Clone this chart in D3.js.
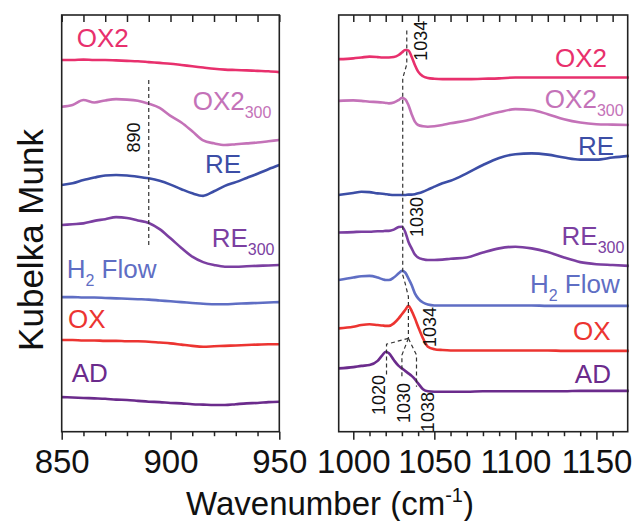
<!DOCTYPE html>
<html>
<head>
<meta charset="utf-8">
<script src="https://cdn.jsdelivr.net/npm/d3@7"></script>
<style>
body { margin: 0; background: #fff; }
text { font-family: "Liberation Sans", Arial, sans-serif; }
</style>
</head>
<body>
<div id="km-chart"></div>
<script>
const containerWidth = 636;
const containerHeight = 521;

//Wavenumber grids (cm-1)
const wnLeft = [850,855,860,865,870,875,880,885,890,895,900,905,910,915,920,925,930,935,940,945,950];
const wnRight = [991,1000,1005,1010,1015,1018,1020,1022,1025,1028,1030,1032,1034,1036,1038,1040,1043,1046,1050,1055,1060,1070,1080,1090,1100,1110,1120,1130,1140,1150,1160,1170];

//Kubelka Munk values, stacked with offsets (arb. units), 850-950 region
const leftOX2    = [8.92,8.92,8.93,8.92,8.92,8.91,8.90,8.89,8.87,8.85,8.83,8.80,8.77,8.74,8.71,8.69,8.68,8.67,8.66,8.65,8.63];
const leftOX2300 = [7.80,7.84,7.96,7.90,7.95,7.98,7.97,7.94,7.87,7.77,7.58,7.42,7.21,6.99,6.92,6.88,6.90,6.92,6.94,6.97,7.00];
const leftRE     = [5.92,5.96,6.04,6.10,6.15,6.16,6.15,6.12,6.08,6.02,5.93,5.82,5.72,5.66,5.77,5.90,5.99,6.09,6.19,6.30,6.40];
const leftRE300  = [4.96,4.98,5.00,5.06,5.10,5.15,5.13,5.07,5.01,4.86,4.64,4.41,4.20,4.07,4.00,3.96,3.96,3.97,3.98,3.99,4.00];
const leftH2     = [3.23,3.23,3.22,3.22,3.21,3.20,3.19,3.18,3.17,3.15,3.13,3.11,3.09,3.07,3.06,3.06,3.07,3.08,3.09,3.10,3.11];
const leftOX     = [2.20,2.20,2.19,2.19,2.18,2.18,2.17,2.17,2.16,2.14,2.12,2.09,2.06,2.04,2.05,2.06,2.07,2.08,2.09,2.10,2.10];
const leftAD     = [0.83,0.82,0.81,0.80,0.79,0.77,0.76,0.74,0.72,0.71,0.69,0.68,0.66,0.65,0.64,0.64,0.66,0.68,0.69,0.71,0.72];

//Kubelka Munk values, 991-1170 region
const rightOX2    = [8.94,8.96,8.98,9.00,8.99,8.98,8.98,8.98,8.99,9.04,9.10,9.16,9.15,9.00,8.80,8.64,8.53,8.49,8.47,8.46,8.46,8.46,8.47,8.48,8.50,8.50,8.50,8.50,8.50,8.50,8.50,8.50];
const rightOX2300 = [7.94,7.95,7.94,7.92,7.91,7.90,7.89,7.88,7.90,7.96,8.01,7.98,7.84,7.62,7.44,7.36,7.33,7.32,7.33,7.36,7.40,7.47,7.57,7.67,7.74,7.72,7.62,7.50,7.42,7.38,7.37,7.36];
const rightRE     = [5.68,5.73,5.76,5.75,5.72,5.71,5.70,5.69,5.68,5.68,5.68,5.68,5.69,5.69,5.70,5.72,5.76,5.81,5.88,5.96,6.02,6.20,6.40,6.57,6.66,6.68,6.65,6.58,6.53,6.53,6.58,6.62];
const rightRE300  = [4.78,4.79,4.80,4.80,4.81,4.81,4.82,4.82,4.85,4.91,4.92,4.80,4.56,4.40,4.25,4.18,4.14,4.12,4.12,4.13,4.15,4.18,4.30,4.40,4.44,4.40,4.31,4.18,4.07,4.02,4.00,3.98];
const rightH2     = [3.64,3.70,3.73,3.74,3.70,3.66,3.64,3.64,3.70,3.80,3.86,3.82,3.68,3.52,3.32,3.20,3.10,3.05,3.03,3.03,3.03,3.03,3.03,3.03,3.03,3.03,3.02,3.02,3.02,3.02,3.02,3.02];
const rightOX     = [2.48,2.52,2.56,2.58,2.56,2.55,2.54,2.54,2.60,2.72,2.82,2.92,3.02,2.90,2.72,2.52,2.24,2.04,1.98,1.96,1.95,1.95,1.95,1.95,1.95,1.95,1.95,1.94,1.94,1.94,1.94,1.94];
const rightAD     = [1.52,1.55,1.58,1.60,1.70,1.84,1.92,1.88,1.72,1.58,1.52,1.46,1.40,1.34,1.26,1.16,1.02,0.97,0.96,0.96,0.96,0.96,0.97,0.97,0.97,0.97,0.97,0.97,0.98,0.98,0.98,0.98];

//Sample names (main text + subscript)
const sampleNames = [["OX2",""],["OX2","300"],["RE",""],["RE","300"],["H","2"],["OX",""],["AD",""]];
const sampleColors = ["#e8306d","#c472b8","#3c4ea6","#7b3fa1","#5f6ec4","#ec3431","#6b2b8c"];

//Tick values
const leftMajor = [850,900,950];
const leftMinor = [860,870,880,890,910,920,930,940];
const rightMajor = [1000,1050,1100,1150];
const rightMinor = [1010,1020,1030,1040,1060,1070,1080,1090,1110,1120,1130,1140,1160];

//Peak markers
const leftPeaks = [890];
const rightPeakLabels = ["1034","1030","1034","1020","1030","1038"];

const svgContainer = d3.select("#km-chart")
    .append('svg')
    .attr('width', containerWidth)
    .attr('height', containerHeight);

const plotTop = 15, plotBottom = 431.7;

const scaleY = d3.scaleLinear().domain([0, 10]).range([plotBottom, plotTop]);
const scaleXLeft = d3.scaleLinear().domain([850, 950]).range([61.7, 279.3]);
const scaleXRight = d3.scaleLinear().domain([991, 1169.3]).range([338.7, 627.7]);

const panels = [
    {x: scaleXLeft, wn: wnLeft, series: [leftOX2,leftOX2300,leftRE,leftRE300,leftH2,leftOX,leftAD],
     major: leftMajor, minor: leftMinor,
     labelAt: [[856.9,9.24],[910.2,7.72],[915.9,6.21],[918.9,4.44],[852.3,3.68],[852.9,2.48],[854.6,1.20]]},
    {x: scaleXRight, wn: wnRight, series: [rightOX2,rightOX2300,rightRE,rightRE300,rightH2,rightOX,rightAD],
     major: rightMajor, minor: rightMinor,
     labelAt: [[1124.4,8.76],[1118.2,7.77],[1138.6,6.64],[1128.5,4.48],[1109,3.33],[1135.5,2.20],[1136.7,1.17]]}
];

panels.forEach(p => {
    const [x0, x1] = p.x.range();

    //Spectra
    const line = d3.line()
        .x((d, i) => p.x(p.wn[i]))
        .y(d => scaleY(d))
        .curve(d3.curveMonotoneX);

    p.series.forEach((s, i) => {
        svgContainer.append('path')
            .datum(s)
            .attr('d', line)
            .attr('fill', 'none')
            .attr('stroke', sampleColors[i])
            .attr('stroke-width', 2.6)
            .attr('stroke-linejoin', 'round');
    });

    //Sample labels
    p.labelAt.forEach((pos, i) => {
        const name = sampleNames[i];
        const t = svgContainer.append('text')
            .attr('x', p.x(pos[0]))
            .attr('y', scaleY(pos[1]))
            .attr('fill', sampleColors[i])
            .attr('font-size', 26);
        t.append('tspan').text(name[0]);
        if (name[1]) {
            t.append('tspan').text(name[1]).attr('font-size', 16).attr('dy', 8);
            if (name[0] === "H") t.append('tspan').text(" Flow").attr('dy', -8);
        }
    });

    //Frame
    svgContainer.append('rect')
        .attr('x', x0).attr('y', plotTop)
        .attr('width', x1 - x0).attr('height', plotBottom - plotTop)
        .attr('fill', 'none')
        .attr('stroke', '#222')
        .attr('stroke-width', 1.6);

    //Bottom axis (outward ticks)
    svgContainer.append('g')
        .attr('transform', 'translate(0,' + plotBottom + ')')
        .call(d3.axisBottom(p.x).tickValues(p.minor).tickSize(4.5).tickFormat(''))
        .call(g => g.select('.domain').remove());

    svgContainer.append('g')
        .attr('class', 'x-axis')
        .attr('transform', 'translate(0,' + plotBottom + ')')
        .call(d3.axisBottom(p.x).tickValues(p.major).tickSize(8).tickPadding(10).tickFormat(d3.format('d')))
        .call(g => g.select('.domain').remove())
        .call(g => g.selectAll('text').attr('font-size', 33).attr('fill', '#111')
            .style('font-family', '"Liberation Sans", Arial, sans-serif'));

    //Top axis (inward ticks)
    svgContainer.append('g')
        .attr('transform', 'translate(0,' + plotTop + ')')
        .call(d3.axisBottom(p.x).tickValues(p.major.concat(p.minor)).tickSize(7).tickFormat(''))
        .call(g => g.select('.domain').remove());

    svgContainer.selectAll('.tick line').attr('stroke', '#222').attr('stroke-width', 1.5);
});

//Dashed peak guides
const guide = d3.line().curve(d3.curveLinear);
function dashed(scaleX, pts) {
    svgContainer.append('path')
        .attr('d', guide(pts.map(d => [scaleX(d[0]), scaleY(d[1])])))
        .attr('fill', 'none')
        .attr('stroke', '#333')
        .attr('stroke-width', 1.2)
        .attr('stroke-dasharray', '4,3');
}

dashed(scaleXLeft, [[leftPeaks[0], 8.44], [leftPeaks[0], 4.44]]);
dashed(scaleXRight, [[1033, 9.63], [1033, 8.82], [1030.5, 8.48], [1030.5, 3.76], [1032, 3.56], [1034, 3.24], [1034, 2.24]]);
dashed(scaleXRight, [[1034, 2.24], [1020.5, 2.10], [1020.5, 1.30]]);
dashed(scaleXRight, [[1034, 2.24], [1030, 1.84], [1030, 1.30]]);
dashed(scaleXRight, [[1034, 2.24], [1039, 1.84], [1039, 1.08]]);

//Peak labels (rotated)
function peakLabel(scaleX, wn, v, txt) {
    svgContainer.append('text')
        .attr('transform', 'translate(' + scaleX(wn) + ',' + scaleY(v) + ') rotate(-90)')
        .attr('text-anchor', 'middle')
        .attr('dy', '0.35em')
        .attr('font-size', 18)
        .attr('fill', '#111')
        .text(txt);
}

peakLabel(scaleXLeft, 883.2, 7.06, String(leftPeaks[0]));
const rightPeakPos = [[1041.3, 9.38], [1039.3, 5.15], [1047.3, 2.51], [1015.9, 0.88], [1031.3, 0.69], [1046.1, 0.47]];
rightPeakPos.forEach((p, i) => peakLabel(scaleXRight, p[0], p[1], rightPeakLabels[i]));

//Axis titles
const xTitle = svgContainer.append('text')
    .attr('x', 330)
    .attr('y', 515)
    .attr('text-anchor', 'middle')
    .attr('font-size', 33)
    .attr('fill', '#111');
xTitle.append('tspan').text('Wavenumber (cm');
xTitle.append('tspan').text('-1').attr('font-size', 20).attr('dy', -13);
xTitle.append('tspan').text(')').attr('dy', 13);

svgContainer.append('text')
    .attr('transform', 'translate(43,240) rotate(-90)')
    .attr('text-anchor', 'middle')
    .attr('font-size', 35)
    .attr('fill', '#111')
    .text('Kubelka Munk');
</script>
</body>
</html>
